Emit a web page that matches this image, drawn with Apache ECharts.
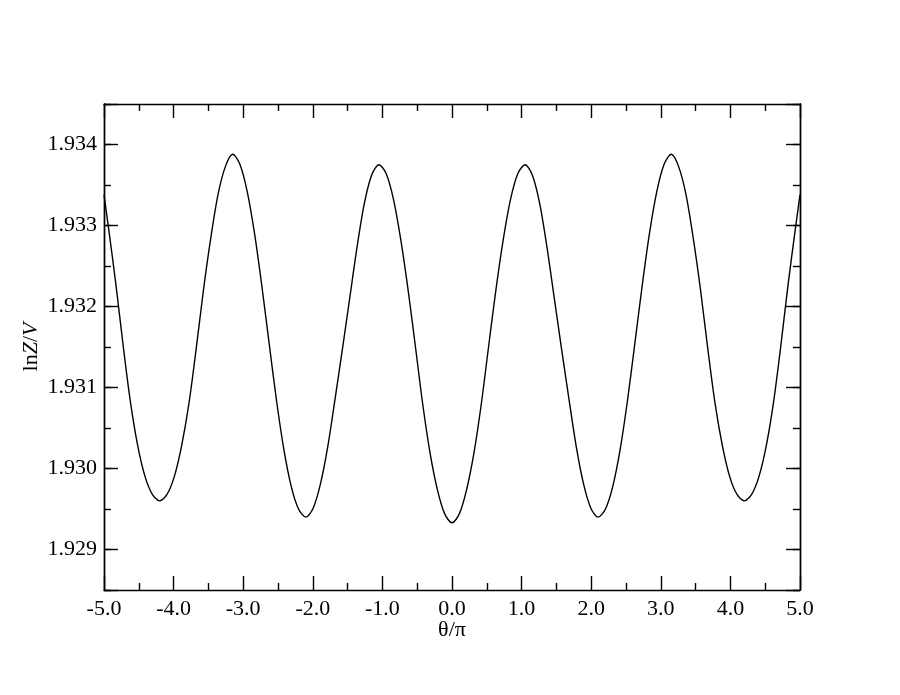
<!DOCTYPE html>
<html>
<head>
<meta charset="utf-8">
<script src="https://cdn.jsdelivr.net/npm/echarts@6/dist/echarts.min.js"></script>
<style>
html,body{margin:0;padding:0;background:#fff;}
#chart{width:900px;height:695px;}
</style>
</head>
<body>
<div id="chart"></div>
<script>
var thetas = [-5.000,-4.935,-4.830,-4.725,-4.620,-4.515,-4.410,-4.305,-4.200,-4.095,
  -3.990,-3.885,-3.780,-3.675,-3.570,-3.465,-3.360,-3.255,-3.150,-3.045,
  -2.940,-2.835,-2.730,-2.625,-2.520,-2.415,-2.310,-2.205,-2.100,-1.995,
  -1.890,-1.785,-1.680,-1.575,-1.470,-1.365,-1.260,-1.155,-1.050,-0.945,
  -0.840,-0.735,-0.630,-0.525,-0.420,-0.315,-0.210,-0.105,0.000,
  0.105,0.210,0.315,0.420,0.525,0.630,0.735,0.840,0.945,1.050,
  1.155,1.260,1.365,1.470,1.575,1.680,1.785,1.890,1.995,2.100,
  2.205,2.310,2.415,2.520,2.625,2.730,2.835,2.940,3.045,3.150,
  3.255,3.360,3.465,3.570,3.675,3.780,3.885,3.990,4.095,4.200,
  4.305,4.410,4.515,4.620,4.725,4.830,4.935,5.000];
var lnZV = [1.93338,1.93297,1.93228,1.93152,1.93082,1.93028,1.92990,1.92968,1.92960,1.92968,
  1.92990,1.93028,1.93080,1.93148,1.93221,1.93285,1.93339,1.93373,1.93388,1.93375,
  1.93341,1.93289,1.93224,1.93153,1.93083,1.93023,1.92978,1.92950,1.92940,1.92951,
  1.92981,1.93027,1.93086,1.93147,1.93210,1.93273,1.93327,1.93362,1.93375,1.93364,
  1.93332,1.93282,1.93220,1.93150,1.93079,1.93019,1.92974,1.92944,1.92933,
  1.92944,1.92974,1.93019,1.93079,1.93150,1.93220,1.93282,1.93332,1.93364,1.93375,
  1.93362,1.93327,1.93273,1.93210,1.93147,1.93086,1.93027,1.92981,1.92951,1.92940,
  1.92950,1.92978,1.93023,1.93083,1.93153,1.93224,1.93289,1.93341,1.93375,1.93388,
  1.93373,1.93339,1.93285,1.93221,1.93148,1.93080,1.93028,1.92990,1.92968,1.92960,
  1.92968,1.92990,1.93028,1.93082,1.93152,1.93228,1.93297,1.93338];
var xMin = -5, xMax = 5, xStep = 1;
var yMin = 1.9285, yMax = 1.9345, yMinorStep = 0.0005;
var xTitle = 'θ/π';

var FONT = 'Liberation Serif';
var lineStyle = {color: '#000', width: 1.4};
var tickStyle = {color: '#000', width: 1.4};

function xAxisDef(pos, showLabel) {
  return {
    type: 'value', position: pos, min: xMin, max: xMax, interval: xStep,
    axisLine: {show: true, onZero: false, lineStyle: lineStyle},
    axisTick: {show: true, inside: true, length: 14, lineStyle: tickStyle},
    minorTick: {show: true, splitNumber: 2, length: 7, lineStyle: tickStyle},
    splitLine: {show: false}, minorSplitLine: {show: false},
    axisLabel: {show: showLabel, color: '#000', fontFamily: FONT, fontSize: 22, margin: 8,
      formatter: function (v) { return v.toFixed(1); }},
    name: showLabel ? xTitle : '', nameLocation: 'middle', nameGap: 29, nameMoveOverlap: false,
    nameTextStyle: {color: '#000', fontFamily: FONT, fontSize: 22}
  };
}
function yMinorDef(pos, showLabel) {
  return {
    type: 'value', position: pos, min: yMin, max: yMax, interval: yMinorStep,
    axisLine: {show: true, onZero: false, lineStyle: lineStyle},
    axisTick: {show: true, inside: true, length: 7, lineStyle: tickStyle},
    splitLine: {show: false},
    axisLabel: {show: showLabel, color: '#000', fontFamily: FONT, fontSize: 22, margin: 7,
      formatter: function (v) {
        var k = v * 1000;
        if (Math.abs(k - Math.round(k)) < 1e-6) return v.toFixed(3);
        return '';
      }},
    name: showLabel ? '{n|ln}{i|Z}{n|/}{i|V}' : '', nameLocation: 'middle', nameGap: 62, nameRotate: 90,
    nameMoveOverlap: false,
    nameTextStyle: {color: '#000', fontFamily: FONT, fontSize: 22,
      rich: {n: {fontFamily: FONT, fontSize: 22, color: '#000'},
             i: {fontFamily: FONT, fontSize: 22, color: '#000', fontStyle: 'italic'}}}
  };
}
function yMajorDef(pos) {
  return {
    type: 'value', position: pos, min: yMin, max: yMax, splitNumber: 6,
    axisLine: {show: true, onZero: false, lineStyle: lineStyle},
    axisTick: {show: true, inside: true, length: 14, lineStyle: tickStyle},
    splitLine: {show: false},
    axisLabel: {show: false}
  };
}

var data = thetas.map(function (t, i) { return [t, lnZV[i]]; });

var chart = echarts.init(document.getElementById('chart'), null, {renderer: 'canvas'});
chart.setOption({
  backgroundColor: '#fff',
  animation: false,
  grid: {left: 104, right: 100, top: 104, bottom: 105, containLabel: false},
  xAxis: [xAxisDef('bottom', true), xAxisDef('top', false)],
  yAxis: [yMinorDef('left', true), yMajorDef('left'), yMinorDef('right', false), yMajorDef('right')],
  series: [{
    type: 'line', xAxisIndex: 0, yAxisIndex: 0,
    data: data, showSymbol: false, smooth: 0.3,
    lineStyle: {color: '#000', width: 1.4}
  }]
});
</script>
</body>
</html>
